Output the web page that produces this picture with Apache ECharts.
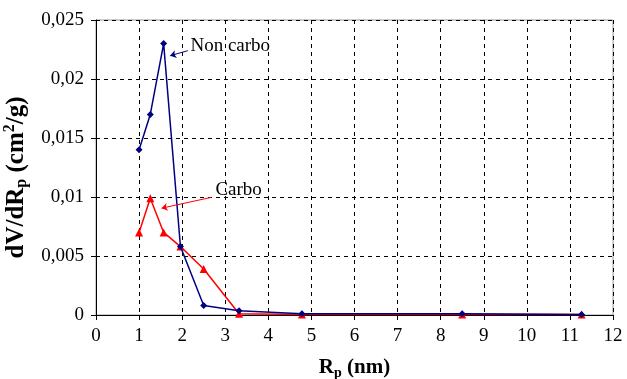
<!DOCTYPE html>
<html>
<head>
<meta charset="utf-8">
<script src="https://cdn.jsdelivr.net/npm/echarts@6/dist/echarts.min.js"></script>
<style>
  html, body { margin: 0; padding: 0; background: #fff; }
  #chart { width: 627px; height: 379px; }
</style>
</head>
<body>
<div id="chart"></div>
<script>
// pore radius (nm)
const radius = [1.0, 1.26, 1.57, 1.96, 2.5, 3.32, 4.78, 8.5, 11.27];
const nonCarbo = [0.014, 0.017, 0.023, 0.0058, 0.0008, 0.00036, 0.0001, 0.0001, 0.00005];
const carbo = [0.007, 0.0099, 0.007, 0.0058, 0.0039, 0.0001, 0.00005, 0.00005, 0.00005];

const serif = '"Liberation Serif", "DejaVu Serif", serif';
const pair = (ys) => radius.map((x, i) => [x, ys[i]]);

const chart = echarts.init(document.getElementById('chart'));

// text label placed in data coords, no visible symbol
const note = (text, coord) => ({
  silent: true, symbol: 'circle', symbolSize: 1,
  itemStyle: { color: 'rgba(0,0,0,0)' },
  label: { show: true, formatter: text, fontFamily: serif, fontSize: 19, color: '#000', position: 'right', distance: 0 },
  data: [{ coord: coord }]
});

const option = {
  backgroundColor: '#fff',
  animation: false,
  grid: {
    left: 96, right: 14, top: 20, bottom: 64,
    outerBoundsMode: 'none',
    show: true, borderColor: '#999', borderWidth: 1
  },
  xAxis: {
    type: 'value', min: 0, max: 12, interval: 1,
    name: '{b|R}{s|p}{b| (nm)}',
    nameLocation: 'middle', nameGap: 41,
    nameTextStyle: {
      rich: {
        b: { fontFamily: serif, fontWeight: 'bold', fontSize: 21, color: '#000' },
        s: { fontFamily: serif, fontWeight: 'bold', fontSize: 14, color: '#000', padding: [10, 0, 0, 0] }
      }
    },
    axisLine: { lineStyle: { color: '#000', width: 1 } },
    axisTick: { show: true, length: 5, lineStyle: { color: '#000' } },
    axisLabel: { color: '#000', fontFamily: serif, fontSize: 19, margin: 12 },
    splitLine: { show: true, lineStyle: { color: '#000', type: [4, 4], width: 1 } }
  },
  yAxis: {
    type: 'value', min: 0, max: 0.025, interval: 0.005,
    name: '{b|dV/dR}{s|p}{b| (cm}{u|2}{b|/g)}',
    nameLocation: 'middle', nameGap: 48, nameRotate: 90,
    nameTextStyle: {
      padding: [0, 20, 0, 0],
      rich: {
        b: { fontFamily: serif, fontWeight: 'bold', fontSize: 25, color: '#000' },
        s: { fontFamily: serif, fontWeight: 'bold', fontSize: 16, color: '#000', padding: [11, 0, 0, 0] },
        u: { fontFamily: serif, fontWeight: 'bold', fontSize: 16, color: '#000', padding: [0, 0, 13, 0] }
      }
    },
    axisLine: { show: true, lineStyle: { color: '#000', width: 1 } },
    axisTick: { show: true, length: 5, lineStyle: { color: '#000' } },
    axisLabel: {
      color: '#000', fontFamily: serif, fontSize: 19, margin: 12,
      formatter: (v) => String(+v.toFixed(3)).replace('.', ',')
    },
    splitLine: { show: true, lineStyle: { color: '#000', type: [4, 4], width: 1 } }
  },
  series: [
    {
      name: 'Non carbo',
      type: 'line',
      data: pair(nonCarbo),
      symbol: 'diamond', symbolSize: 7,
      lineStyle: { color: '#000080', width: 1.5 },
      itemStyle: { color: '#000080' },
      z: 3,
      markLine: {
        silent: true, symbol: ['none', 'arrow'], symbolSize: 6,
        lineStyle: { color: '#000080', width: 1, type: 'solid' },
        label: { show: false },
        data: [[{ coord: [2.13, 0.0224] }, { coord: [1.72, 0.02197] }]]
      },
      markPoint: note('Non carbo', [2.18, 0.0228])
    },
    {
      name: 'Carbo',
      type: 'line',
      data: pair(carbo),
      symbol: 'triangle', symbolSize: 8,
      lineStyle: { color: '#ff0000', width: 1.5 },
      itemStyle: { color: '#ff0000' },
      z: 2,
      markLine: {
        silent: true, symbol: ['none', 'arrow'], symbolSize: 6,
        lineStyle: { color: '#ff0000', width: 1, type: 'solid' },
        label: { show: false },
        data: [[{ coord: [2.68, 0.00997] }, { coord: [1.52, 0.00905] }]]
      },
      markPoint: note('Carbo', [2.76, 0.0106])
    }
  ]
};

chart.setOption(option);
</script>
</body>
</html>
